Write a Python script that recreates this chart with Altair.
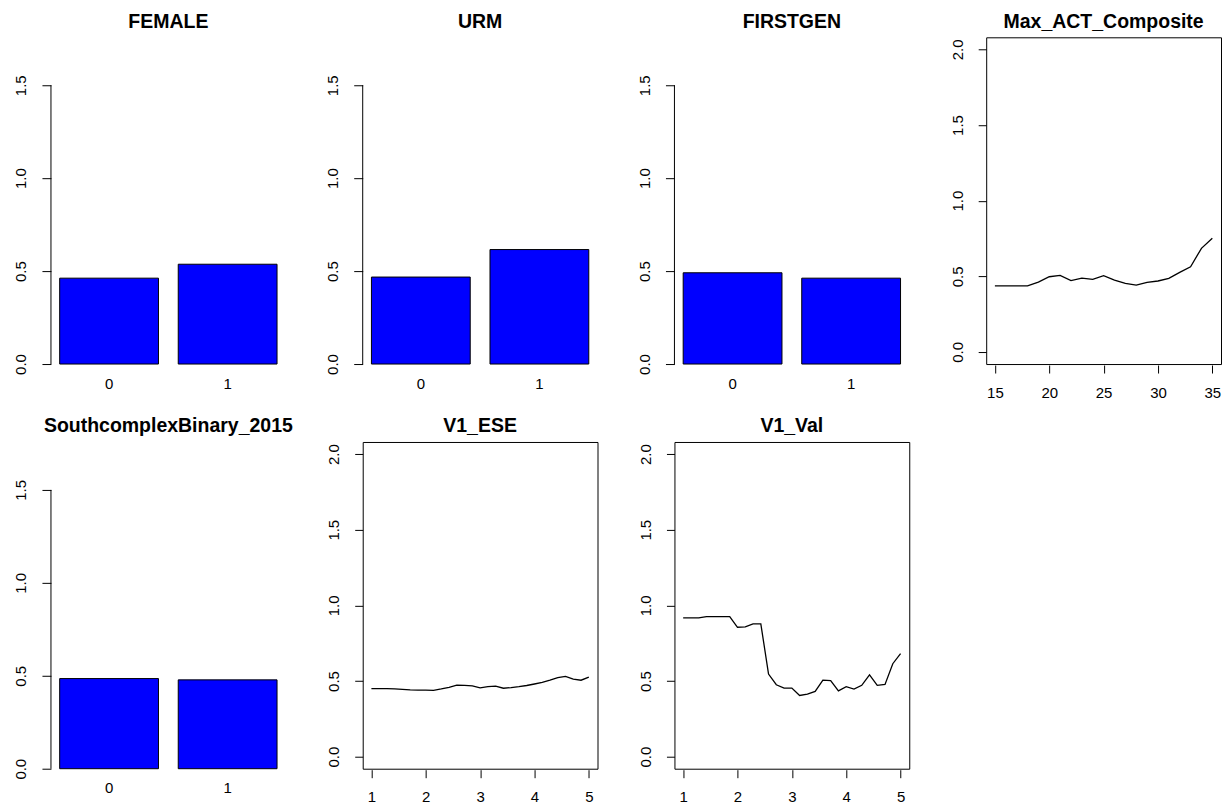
import altair as alt
import pandas as pd

# ---- values ----
levels = ["0", "1"]
female = [0.462, 0.537]
urm = [0.468, 0.616]
firstgen = [0.491, 0.462]
southcomplex = [0.485, 0.478]

act_x = [15, 16, 17, 18, 19, 20, 21, 22, 23, 24, 25,
         26, 27, 28, 29, 30, 31, 32, 33, 34, 35]
act_y = [0.437, 0.437, 0.437, 0.437, 0.462, 0.497, 0.506, 0.471, 0.488, 0.480, 0.504,
         0.475, 0.453, 0.442, 0.460, 0.469, 0.486, 0.526, 0.563, 0.685, 0.751]

v1_x = [1.0, 1.143, 1.286, 1.429, 1.571, 1.714, 1.857, 2.0, 2.143, 2.286,
        2.429, 2.571, 2.714, 2.857, 3.0, 3.143, 3.286, 3.429, 3.571, 3.714,
        3.857, 4.0, 4.143, 4.286, 4.429, 4.571, 4.714, 4.857, 5.0]
ese_y = [0.449, 0.449, 0.449, 0.448, 0.444, 0.441, 0.440, 0.439, 0.438, 0.447,
         0.458, 0.472, 0.471, 0.468, 0.455, 0.462, 0.466, 0.452, 0.456, 0.462,
         0.470, 0.480, 0.490, 0.505, 0.522, 0.530, 0.512, 0.505, 0.526]
val_y = [0.917, 0.917, 0.917, 0.926, 0.926, 0.926, 0.926, 0.855, 0.857, 0.877,
         0.877, 0.546, 0.475, 0.453, 0.453, 0.404, 0.413, 0.431, 0.506, 0.502,
         0.435, 0.462, 0.446, 0.471, 0.541, 0.471, 0.477, 0.614, 0.681]

bar_ticks = [0.0, 0.5, 1.0, 1.5]
line_ticks = [0.0, 0.5, 1.0, 1.5, 2.0]
act_ticks = [15, 20, 25, 30, 35]
v1_ticks = [1, 2, 3, 4, 5]

# ---- styling ----
W, H = 235, 327
FONT = "Liberation Sans"
LABEL_SIZE = 15
TITLE_SIZE = 19.5


def panel_title(text):
    return alt.TitleParams(text, font=FONT, fontSize=TITLE_SIZE, fontWeight="bold",
                           color="black", anchor="middle", frame="group",
                           baseline="bottom", offset=-14)


def y_axis(values, tick):
    return alt.Axis(values=values, format=".1f", grid=False, domain=False,
                    tickSize=tick, tickColor="black", tickWidth=1,
                    labelAngle=270, labelAlign="center", labelBaseline="alphabetic",
                    labelPadding=16, labelFont=FONT, labelFontSize=LABEL_SIZE,
                    labelColor="black", title=None)


def bar_panel(name, values):
    df = pd.DataFrame({"level": levels, "value": values})
    bars = alt.Chart(df).mark_bar(fill="#0000ff", stroke="black", strokeWidth=1).encode(
        x=alt.X("level:N", sort=levels, title=None,
                scale=alt.Scale(paddingInner=1 / 6, paddingOuter=0.0736),
                axis=alt.Axis(labelAngle=0, ticks=False, domain=False, grid=False,
                              labelPadding=12, labelFont=FONT,
                              labelFontSize=LABEL_SIZE, labelColor="black")),
        y=alt.Y("value:Q", title=None,
                scale=alt.Scale(domain=[0, 1.758], nice=False, zero=False),
                axis=y_axis(bar_ticks, 9)),
    )
    # left axis line spanning the tick range only
    span = pd.DataFrame({"lo": [min(bar_ticks)], "hi": [max(bar_ticks)]})
    axis_line = alt.Chart(span).mark_rule(color="black", strokeWidth=1).encode(
        x=alt.value(0),
        y=alt.Y("lo:Q", title=None),
        y2="hi:Q",
    )
    return alt.layer(bars, axis_line).properties(
        width=W, height=H, title=panel_title(name),
        view=alt.ViewBackground(strokeOpacity=0),
    )


def line_panel(name, xs, ys, xdom, xticks):
    df = pd.DataFrame({"x": xs, "y": ys})
    return alt.Chart(df).mark_line(color="black", strokeWidth=1.3).encode(
        x=alt.X("x:Q", title=None,
                scale=alt.Scale(domain=xdom, nice=False, zero=False),
                axis=alt.Axis(values=xticks, format="d", grid=False, domain=False,
                              tickSize=8, tickColor="black", tickWidth=1, offset=1,
                              labelPadding=12, labelFont=FONT,
                              labelFontSize=LABEL_SIZE, labelColor="black")),
        y=alt.Y("y:Q", title=None,
                scale=alt.Scale(domain=[-0.08, 2.08], nice=False, zero=False),
                axis=y_axis(line_ticks, 8)),
    ).properties(
        width=W, height=H, title=panel_title(name),
        view=alt.ViewBackground(stroke="black", strokeWidth=1),
    )


panels = [
    bar_panel("FEMALE", female),
    bar_panel("URM", urm),
    bar_panel("FIRSTGEN", firstgen),
    line_panel("Max_ACT_Composite", act_x, act_y, [14.2, 35.8], act_ticks),
    bar_panel("SouthcomplexBinary_2015", southcomplex),
    line_panel("V1_ESE", v1_x, ese_y, [0.84, 5.16], v1_ticks),
    line_panel("V1_Val", v1_x, val_y, [0.84, 5.16], v1_ticks),
]

chart = alt.concat(
    *panels, columns=4, bounds="flush",
    spacing=alt.RowColnumber(row=78, column=77),
).properties(
    padding={"left": 14, "top": 11, "right": 5, "bottom": 5},
    background="white",
).configure_view(stroke="black")

chart.save("out.html", embed_options={"renderer": "svg", "actions": False})
